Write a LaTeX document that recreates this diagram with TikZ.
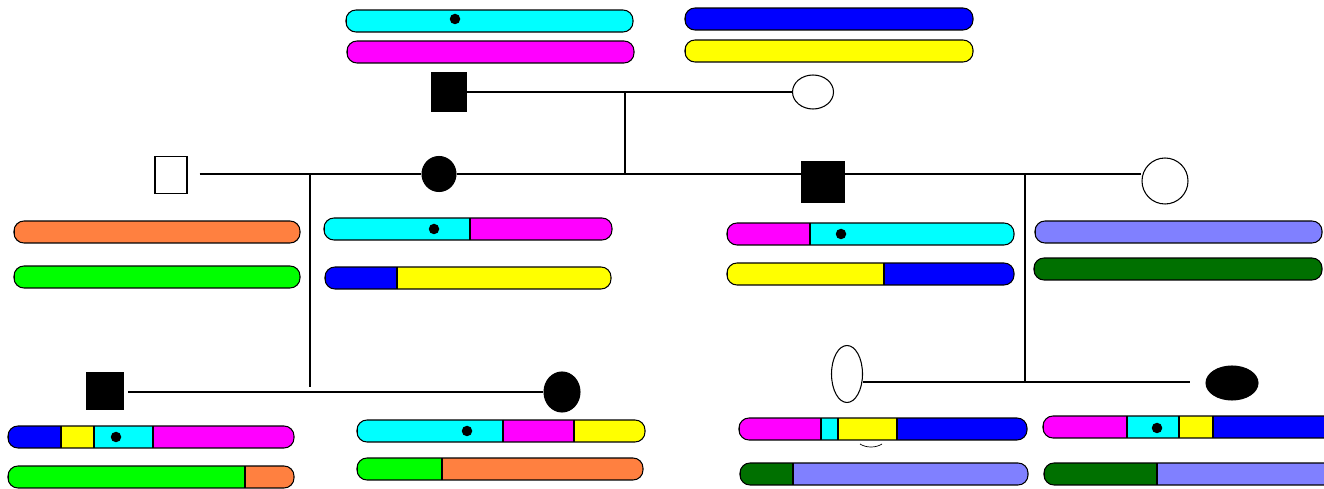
\documentclass[tikz,border=0pt]{standalone}
\usetikzlibrary{shapes.geometric}
\definecolor{chcyan}{HTML}{00FFFF}
\definecolor{chmagenta}{HTML}{FF00FF}
\definecolor{chblue}{HTML}{0000FF}
\definecolor{chyellow}{HTML}{FFFF00}
\definecolor{chorange}{HTML}{FF8040}
\definecolor{chgreen}{HTML}{00FF00}
\definecolor{chlavender}{HTML}{8080FF}
\definecolor{chdkgreen}{HTML}{007000}
\tikzstyle{male} = [
    rectangle,
    inner sep=0pt,
    line width=0.6pt,
    draw=black
]
\tikzstyle{female} = [
    ellipse,
    inner sep=0pt,
    line width=0.6pt,
    draw=black
]
\tikzstyle{affected} = [fill=black]
\tikzstyle{link} = [draw=black, line width=0.6pt]
\tikzstyle{chrom} = [draw=black, line width=0.6pt, rounded corners=2mm]
% left, top, right, segments start/end/colour
\newcommand{\chromosome}[4]{%
  \begin{scope}
    \clip[rounded corners=2mm] (#1,#2) rectangle (#3,#2+22);
    \foreach \s/\e/\col in {#4} {
      \fill[\col] (\s,#2) rectangle (\e,#2+22);
      \draw[line width=0.6pt] (\s,#2) -- (\s,#2+22);
    }
  \end{scope}
  \draw[chrom] (#1,#2) rectangle (#3,#2+22);
}
\newcommand{\centromere}[2]{\fill (#1,#2) circle (1.05mm);}

\begin{document}
\begin{tikzpicture}[x=0.2mm, y=-0.2mm]
\clip (0,0) rectangle (1324,489);
\fill[white] (0,0) rectangle (1324,489);

% grandparents
\node (gf) [male, affected, minimum width=6.8mm, minimum height=7.6mm] at (449,92) {};
\node (gm) [female, minimum width=8.2mm, minimum height=6.8mm] at (813,92) {};

% parents
\node (f1) [male, minimum width=6.4mm, minimum height=7.4mm] at (171,175) {};
\node (m1) [female, affected, minimum width=6.8mm, minimum height=7mm] at (439,174) {};
\node (s1) [male, affected, minimum width=8.4mm, minimum height=8.2mm] at (823,182) {};
\node (w1) [female, minimum width=9.2mm, minimum height=9.2mm] at (1165,181) {};

% children
\node (c1) [male, affected, minimum width=7.4mm, minimum height=7.2mm] at (105,391) {};
\node (c2) [female, affected, minimum width=7.2mm, minimum height=8mm] at (562,392) {};
\node (c3) [female, minimum width=6.2mm, minimum height=11.4mm] at (847,374) {};
\node (c4) [female, affected, minimum width=10.4mm, minimum height=6.8mm] at (1232,383) {};

\coordinate (g0) at (625,92);
\coordinate (k1) at (310,174);
\coordinate (k2) at (1025,174);
\coordinate (j1) at (310,392);
\coordinate (j2) at (1025,382);

\draw [link] (gf.east) -- (gm.west);
\draw [link] (g0) -- (g0 |- m1);
\draw [link, shorten <=2.4mm] (f1.east |- m1) -- (m1.west);
\draw [link] (m1.east) -- (m1.east -| s1.west);
\draw [link] (s1.east |- m1) -- (w1.west |- m1);
\draw [link, shorten >=1mm] (k1) -- (j1);
\draw [link] (k2) -- (j2);
\draw [link, shorten <=0.8mm] (c1.east |- j1) -- (c2.west |- j1);
\draw [link, shorten >=3mm] (j2 -| c3.east) -- (j2 -| c4.west);

% chromosomes
\chromosome{346}{10}{633}{346/633/chcyan}
\centromere{455}{19}
\chromosome{347}{41}{634}{347/634/chmagenta}
\chromosome{685}{8}{973}{685/973/chblue}
\chromosome{685}{40}{973}{685/973/chyellow}

\chromosome{14}{221}{300}{14/300/chorange}
\chromosome{14}{266}{300}{14/300/chgreen}
\chromosome{324}{218}{612}{324/470/chcyan, 470/612/chmagenta}
\centromere{434}{229}
\chromosome{325}{267}{611}{325/397/chblue, 397/611/chyellow}
\chromosome{727}{223}{1014}{727/810/chmagenta, 810/1014/chcyan}
\centromere{841}{234}
\chromosome{727}{263}{1014}{727/884/chyellow, 884/1014/chblue}
\chromosome{1035}{221}{1322}{1035/1322/chlavender}
\chromosome{1034}{258}{1322}{1034/1322/chdkgreen}

\chromosome{8}{426}{294}{8/61/chblue, 61/94/chyellow, 94/153/chcyan, 153/294/chmagenta}
\centromere{116}{437}
\chromosome{8}{466}{294}{8/245/chgreen, 245/294/chorange}
\chromosome{357}{420}{645}{357/503/chcyan, 503/574/chmagenta, 574/645/chyellow}
\centromere{467}{431}
\chromosome{357}{458}{643}{357/442/chgreen, 442/643/chorange}
\chromosome{739}{418}{1027}{739/821/chmagenta, 821/838/chcyan, 838/897/chyellow, 897/1027/chblue}
\draw (860,444) .. controls (866,448) and (876,448) .. (882,444);
\chromosome{740}{463}{1028}{740/793/chdkgreen, 793/1028/chlavender}
\chromosome{1043}{416}{1345}{1043/1127/chmagenta, 1127/1179/chcyan, 1179/1213/chyellow, 1213/1345/chblue}
\centromere{1157}{428}
\chromosome{1044}{463}{1345}{1044/1157/chdkgreen, 1157/1345/chlavender}

\end{tikzpicture}
\end{document}
